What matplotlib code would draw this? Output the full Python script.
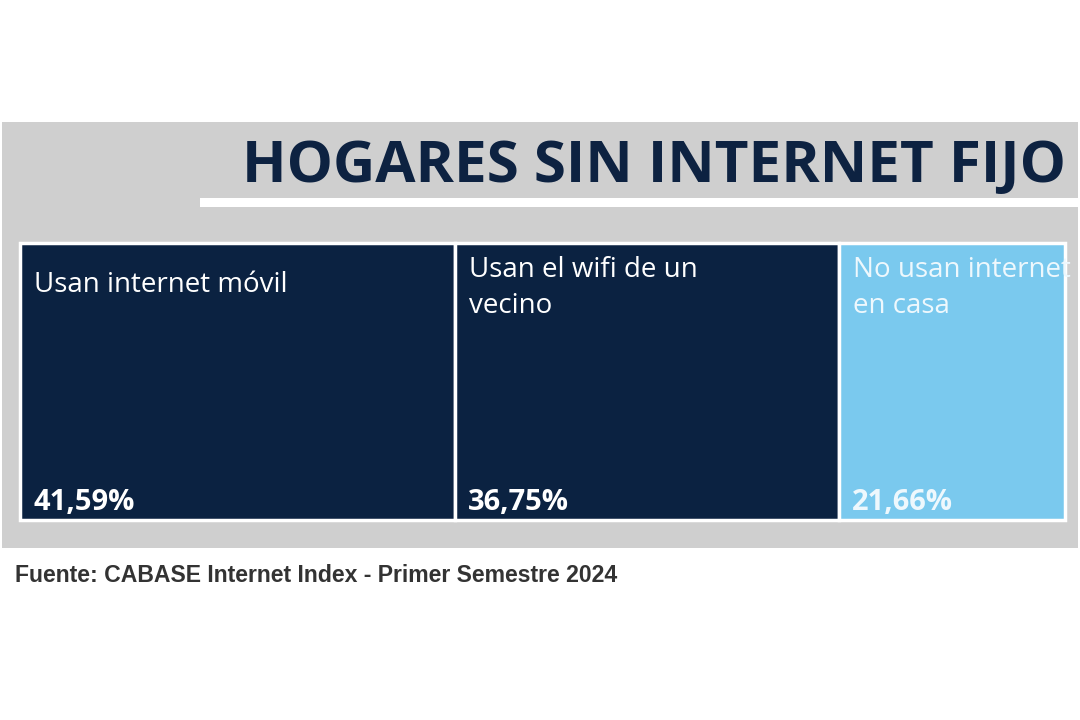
import numpy as np
import matplotlib.pyplot as plt
from matplotlib.patches import Rectangle

# Datos del gráfico
categorias = ['Usan internet móvil', 'Usan el wifi de un\nvecino', 'No usan internet\nen casa']
valores = [41.59, 36.75, 21.66]
etiquetas = ['41,59%', '36,75%', '21,66%']
colores = ['#0b2241', '#0b2241', '#7ac9ee']
colores_texto = ['white', 'white', '#eef8fd']

titulo = 'HOGARES SIN INTERNET FIJO'
fuente = 'Fuente: CABASE Internet Index - Primer Semestre 2024'

fig = plt.figure(figsize=(10.8, 7.2), dpi=100)
ax = fig.add_axes([0, 0, 1, 1])
ax.set_xlim(0, 1080)
ax.set_ylim(720, 0)
ax.axis('off')

# Fondo gris y línea blanca bajo el título
ax.add_patch(Rectangle((2, 122), 1076, 426, facecolor='#cfcfcf', edgecolor='none'))
ax.add_patch(Rectangle((200, 198), 880, 9, facecolor='white', edgecolor='none'))

ax.text(1066, 167, titulo, fontsize=42, fontweight='bold', color='#0d2241',
        family='Open Sans', ha='right', va='center')

# Treemap de una fila: anchos proporcionales a los valores
x0, x1 = 20, 1065
y0, y1 = 243, 520
v = np.array(valores)
anchos = v / v.sum() * (x1 - x0)
lefts = x0 + np.concatenate([[0], np.cumsum(anchos)[:-1]])

for i in range(len(valores)):
    rect = Rectangle((lefts[i], y0), anchos[i], y1 - y0, facecolor=colores[i],
                     edgecolor='white', linewidth=2.5)
    ax.add_patch(rect)
    ytxt = 271 if '\n' not in categorias[i] else 256
    t = ax.text(lefts[i] + 14, ytxt, categorias[i], fontsize=20, color=colores_texto[i],
                family='Open Sans', ha='left', va='top', linespacing=1.4)
    t.set_clip_path(rect)
    p = ax.text(lefts[i] + 13, 510, etiquetas[i], fontsize=21, fontweight='bold',
                color=colores_texto[i], family='Open Sans', ha='left', va='baseline')
    p.set_clip_path(rect)

ax.text(15, 575, fuente, fontsize=16.6, fontweight='bold', color='#333333',
        family='Liberation Sans', ha='left', va='center')

fig.savefig('out.png', dpi=100)
